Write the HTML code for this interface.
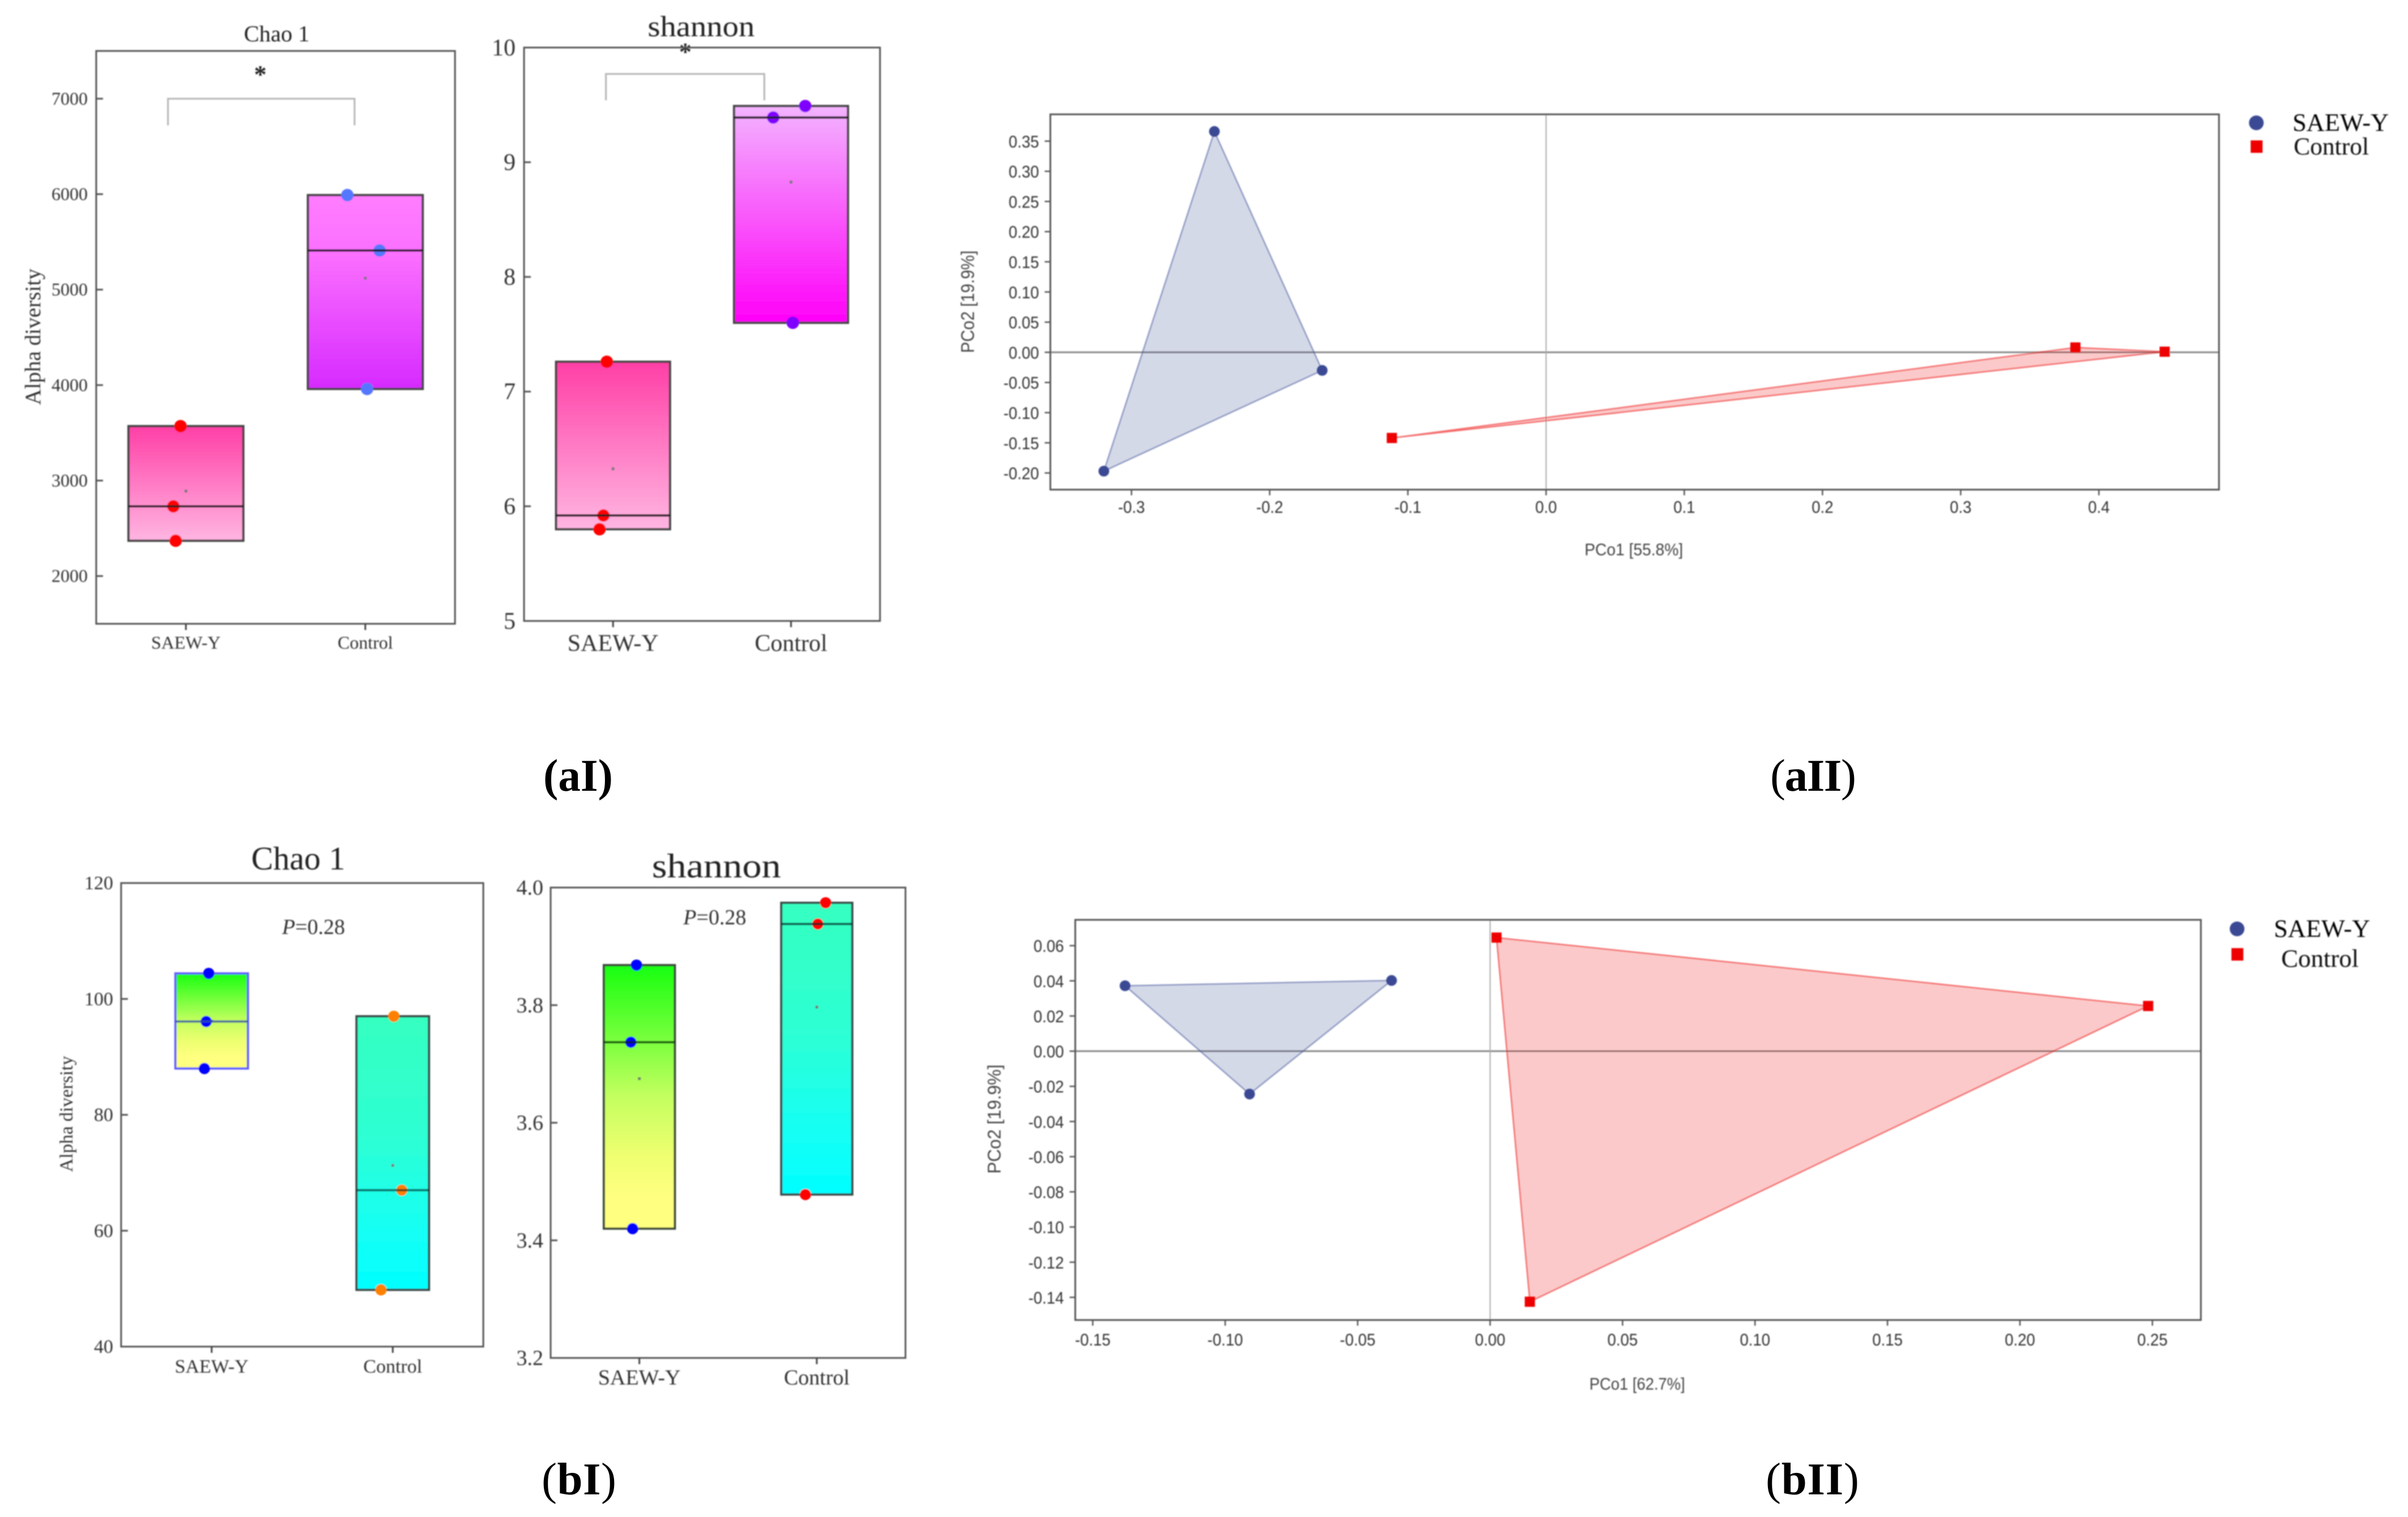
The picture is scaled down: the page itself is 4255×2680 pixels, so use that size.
<!DOCTYPE html>
<html lang="en">
<head>
<meta charset="utf-8">
<title>Alpha diversity and PCoA panels</title>
<style>
html,body{margin:0;padding:0;background:#fff}
svg{display:block}
.serif{font-family:"Liberation Serif",serif}
.sans{font-family:"Liberation Sans",sans-serif}
</style>
</head>
<body>
<svg id="figure" xmlns="http://www.w3.org/2000/svg" width="4255" height="2680" viewBox="0 0 4255 2680">
<defs>
<filter id="soft" filterUnits="userSpaceOnUse" x="0" y="0" width="4255" height="2680"><feGaussianBlur stdDeviation="1"/></filter>
<linearGradient id="g-a-chao-0" x1="0" y1="0" x2="0" y2="1"><stop offset="0" stop-color="#ff3fa6"/><stop offset="1" stop-color="#ffb6e2"/></linearGradient>
<linearGradient id="g-a-chao-1" x1="0" y1="0" x2="0" y2="1"><stop offset="0" stop-color="#ff7dff"/><stop offset="0.3" stop-color="#fb70ff"/><stop offset="1" stop-color="#d62aff"/></linearGradient>
<linearGradient id="g-a-sha-0" x1="0" y1="0" x2="0" y2="1"><stop offset="0" stop-color="#ff3fa6"/><stop offset="1" stop-color="#ffb6e2"/></linearGradient>
<linearGradient id="g-a-sha-1" x1="0" y1="0" x2="0" y2="1"><stop offset="0" stop-color="#f3b4ff"/><stop offset="1" stop-color="#ff00f8"/></linearGradient>
<linearGradient id="g-b-0" x1="0" y1="0" x2="0" y2="1"><stop offset="0" stop-color="#18ff10"/><stop offset="0.5" stop-color="#c4ff60"/><stop offset="0.72" stop-color="#eeff70"/><stop offset="0.88" stop-color="#ffff80"/><stop offset="1" stop-color="#ffff80"/></linearGradient>
<linearGradient id="g-b-1" x1="0" y1="0" x2="0" y2="1"><stop offset="0" stop-color="#35ffc0"/><stop offset="0.45" stop-color="#2dffd4"/><stop offset="0.8" stop-color="#14fff6"/><stop offset="1" stop-color="#00ffff"/></linearGradient>
</defs>

<g id="blurred" filter="url(#soft)">
  <g id="p-a-chao" class="serif">
    <text x="489" y="73" font-size="40" text-anchor="middle" fill="#222" textLength="116" lengthAdjust="spacingAndGlyphs">Chao 1</text>
    <text transform="translate(71 595) rotate(-90)" font-size="39" text-anchor="middle" fill="#333" textLength="241" lengthAdjust="spacingAndGlyphs">Alpha diversity</text>
    <text x="460" y="146" font-size="44" font-weight="bold" text-anchor="middle" fill="#222">*</text>
  </g>
  <g id="p-a-sha" class="serif">
    <text x="1239" y="64" font-size="52" text-anchor="middle" fill="#222" textLength="189" lengthAdjust="spacingAndGlyphs">shannon</text>
    <text x="1211" y="106" font-size="44" font-weight="bold" text-anchor="middle" fill="#222">*</text>
  </g>
  <g id="p-b-chao" class="serif">
    <text x="527" y="1536" font-size="58" text-anchor="middle" fill="#222" textLength="166" lengthAdjust="spacingAndGlyphs">Chao 1</text>
    <text transform="translate(128 1968) rotate(-90)" font-size="33" text-anchor="middle" fill="#333" textLength="205" lengthAdjust="spacingAndGlyphs">Alpha diversity</text>
    <text x="554" y="1650" font-size="38" text-anchor="middle" fill="#333"><tspan font-style="italic">P</tspan>=0.28</text>
  </g>
  <g id="p-b-sha" class="serif">
    <text x="1266" y="1550" font-size="60" text-anchor="middle" fill="#222" textLength="228" lengthAdjust="spacingAndGlyphs">shannon</text>
    <text x="1263" y="1633" font-size="38" text-anchor="middle" fill="#333"><tspan font-style="italic">P</tspan>=0.28</text>
  </g>
  <g id="p-a-pcoa" class="sans">
    <text transform="translate(1721 533) rotate(-90)" font-size="32" text-anchor="middle" fill="#444" textLength="181" lengthAdjust="spacingAndGlyphs">PCo2 [19.9%]</text>
    <text x="2887" y="981" font-size="30" text-anchor="middle" fill="#444" textLength="174" lengthAdjust="spacingAndGlyphs">PCo1 [55.8%]</text>
    <g class="serif">
      <circle cx="3987" cy="217" r="13" fill="#3a4a94"/>
      <text x="4051" y="231" font-size="44" fill="#000" textLength="170" lengthAdjust="spacingAndGlyphs">SAEW-Y</text>
      <rect x="3977" y="248" width="21" height="22" fill="#ee0000"/>
      <text x="4053" y="273" font-size="43" fill="#111" textLength="133" lengthAdjust="spacingAndGlyphs">Control</text>
    </g>
  </g>
  <g id="p-b-pcoa" class="sans">
    <text transform="translate(1768 1977) rotate(-90)" font-size="32" text-anchor="middle" fill="#444" textLength="193" lengthAdjust="spacingAndGlyphs">PCo2 [19.9%]</text>
    <text x="2893" y="2455" font-size="30" text-anchor="middle" fill="#444" textLength="169" lengthAdjust="spacingAndGlyphs">PCo1 [62.7%]</text>
    <g class="serif">
      <circle cx="3953" cy="1641" r="13" fill="#3a4a94"/>
      <text x="4018" y="1655" font-size="44" fill="#000" textLength="170" lengthAdjust="spacingAndGlyphs">SAEW-Y</text>
      <rect x="3943" y="1675" width="21" height="22" fill="#ee0000"/>
      <text x="4031" y="1708" font-size="44" fill="#111" textLength="137" lengthAdjust="spacingAndGlyphs">Control</text>
    </g>
  </g>
</g>

<g class="serif" fill="#000" font-size="81">
  <text x="960" y="1397" font-weight="bold" textLength="123" lengthAdjust="spacingAndGlyphs">(aI)</text>
  <text x="3128" y="1397" textLength="152" lengthAdjust="spacing">(<tspan font-weight="bold">aII</tspan>)</text>
  <text x="957" y="2640" textLength="132" lengthAdjust="spacing">(<tspan font-weight="bold">bI</tspan>)</text>
  <text x="3120" y="2640" textLength="165" lengthAdjust="spacing">(<tspan font-weight="bold">bII</tspan>)</text>
</g>
</svg>

<script>
// ---- shared categories ----
const categories = ['SAEW-Y', 'Control'];

// ---- panel aI Chao 1 ----
const aChaoDomain = [1500, 7500];
const aChaoTicks = [2000, 3000, 4000, 5000, 6000, 7000];
const aChaoSaew = [3570, 2730, 2370];
const aChaoControl = [5990, 5410, 3960];
const aChaoSaewJitter = [-0.03, -0.07, -0.057];
const aChaoControlJitter = [-0.10, 0.08, 0.01];
const aChaoBracketLevels = [6720, 7000];
const aChaoBracketCats = [-0.10, 0.94];

// ---- panel aI shannon ----
const aShaDomain = [5, 10];
const aShaTicks = [5, 6, 7, 8, 9, 10];
const aShaSaew = [7.26, 5.92, 5.80];
const aShaControl = [9.49, 9.39, 7.60];
const aShaSaewJitter = [-0.035, -0.054, -0.076];
const aShaControlJitter = [0.08, -0.10, 0.01];
const aShaBracketLevels = [9.54, 9.77];
const aShaBracketCats = [-0.04, 0.85];

// ---- panel bI Chao 1 ----
const bChaoDomain = [40, 120];
const bChaoTicks = [40, 60, 80, 100, 120];
const bChaoSaew = [104.4, 96.1, 88];
const bChaoControl = [97, 67, 49.8];
const bChaoSaewJitter = [-0.016, -0.03, -0.04];
const bChaoControlJitter = [0.006, 0.05, -0.065];

// ---- panel bI shannon ----
const bShaDomain = [3.2, 4.0];
const bShaTicks = [3.2, 3.4, 3.6, 3.8, 4.0];
const bShaSaew = [3.868, 3.737, 3.42];
const bShaControl = [3.974, 3.938, 3.478];
const bShaSaewJitter = [-0.016, -0.048, -0.038];
const bShaControlJitter = [0.05, 0.006, -0.064];

// ---- panel aII PCoA ----
const aPcoaXDomain = [-0.3587, 0.4869];
const aPcoaYDomain = [-0.2276, 0.3944];
const aPcoaXTicks = [-0.3, -0.2, -0.1, 0, 0.1, 0.2, 0.3, 0.4];
const aPcoaYTicks = [-0.20, -0.15, -0.10, -0.05, 0, 0.05, 0.10, 0.15, 0.20, 0.25, 0.30, 0.35];
const aPcoaSaewX = [-0.240, -0.162, -0.320];
const aPcoaSaewY = [0.366, -0.030, -0.197];
const aPcoaControlX = [-0.1116, 0.383, 0.4476];
const aPcoaControlY = [-0.142, 0.008, 0.001];

// ---- panel bII PCoA ----
const bPcoaXDomain = [-0.1566, 0.2683];
const bPcoaYDomain = [-0.1529, 0.0747];
const bPcoaXTicks = [-0.15, -0.10, -0.05, 0, 0.05, 0.10, 0.15, 0.20, 0.25];
const bPcoaYTicks = [-0.14, -0.12, -0.10, -0.08, -0.06, -0.04, -0.02, 0, 0.02, 0.04, 0.06];
const bPcoaSaewX = [-0.1378, -0.0372, -0.0908];
const bPcoaSaewY = [0.0372, 0.0402, -0.0244];
const bPcoaControlX = [0.0024, 0.2484, 0.015];
const bPcoaControlY = [0.0646, 0.0257, -0.1425];

const NS = 'http://www.w3.org/2000/svg';
function mk(tag, parent, props) {
  const node = document.createElementNS(NS, tag);
  for (const k in props) node.setAttribute(k, props[k]);
  parent.appendChild(node);
  return node;
}
function linear(domain, r0, r1) {
  return function (v) { return r0 + (v - domain[0]) / (domain[1] - domain[0]) * (r1 - r0); };
}
function sortedMiddle(vals) { return vals.slice().sort(function (a, b) { return a - b; })[1]; }
function mean(vals) { return vals.reduce(function (a, b) { return a + b; }, 0) / vals.length; }

function drawFrame(g, f, stroke, width) {
  const frame = mk('rect', g, {x: f.l, y: f.t, width: f.r - f.l, height: f.b - f.t, fill: 'none', stroke: stroke, 'stroke-width': width});
  
  
}

function drawBoxPanel(o) {
  const g = document.getElementById(o.id);
  const f = o.frame;
  const y = linear(o.domain, f.b, f.t);
  const bandW = (f.r - f.l) / categories.length;
  const cx = function (c) { return f.l + (c + 0.5) * bandW; };
  const boxW = bandW * o.boxFrac;

  drawFrame(g, f, '#555', 3);

  o.ticks.forEach(function (t) {
    const line = mk('line', g, {x1: f.l, x2: f.l + 12, y1: y(t), y2: y(t), stroke: '#555', 'stroke-width': 3});
    
    
    const lab = mk('text', g, {x: o.tickRight, y: y(t) + o.tickFont * 0.33, 'font-size': o.tickFont, 'text-anchor': 'end', fill: '#333'});
    lab.textContent = t.toFixed(o.decimals);
    
    
  });

  categories.forEach(function (name, c) {
    const tick = mk('line', g, {x1: cx(c), x2: cx(c), y1: f.b, y2: f.b + 11, stroke: '#444', 'stroke-width': 3});
    
    
    const lab = mk('text', g, {x: cx(c), y: o.catBaseline, 'font-size': o.tickFont, 'text-anchor': 'middle', fill: '#333'});
    lab.textContent = name;
    
    

    const vals = o.values[c];
    const top = y(Math.max.apply(null, vals));
    const bot = y(Math.min.apply(null, vals));
    const box = mk('rect', g, {x: cx(c) - boxW / 2, y: top, width: boxW, height: bot - top, fill: 'url(#' + o.grads[c] + ')', stroke: o.boxStroke[c], 'stroke-width': 4});
    
    

    const m = mk('rect', g, {x: cx(c) - 2.5, y: y(mean(vals)) - 2.5, width: 5, height: 5, fill: '#777'});
    
    

    vals.forEach(function (v, i) {
      const pt = mk('circle', g, {cx: cx(c + o.jitter[c][i]), cy: y(v), r: o.pointR, fill: o.pointColor[c]});
      
      
    });

    const med = y(sortedMiddle(vals));
    const ml = mk('line', g, {x1: cx(c) - boxW / 2, x2: cx(c) + boxW / 2, y1: med, y2: med, stroke: o.medianStroke[c], 'stroke-width': 4});
    
    
  });

  if (o.bracketLevels) {
    const lo = y(o.bracketLevels[0]);
    const hi = y(o.bracketLevels[1]);
    const x0 = cx(o.bracketCats[0]);
    const x1 = cx(o.bracketCats[1]);
    const br = mk('path', g, {d: 'M' + x0 + ' ' + lo + 'V' + hi + 'H' + x1 + 'V' + lo, fill: 'none', stroke: '#b5b5b5', 'stroke-width': 3});
    
    
  }
}

function drawPcoaPanel(o) {
  const g = document.getElementById(o.id);
  const f = o.frame;
  const x = linear(o.xDomain, f.l, f.r);
  const y = linear(o.yDomain, f.b, f.t);

  const zeroH = mk('line', g, {x1: f.l, x2: f.r, y1: y(0), y2: y(0), stroke: '#888', 'stroke-width': 3});
  
  
  const zeroV = mk('line', g, {x1: x(0), x2: x(0), y1: f.t, y2: f.b, stroke: '#aaa', 'stroke-width': 2});
  
  

  const pts = function (xs, ys) { return xs.map(function (v, i) { return x(v) + ',' + y(ys[i]); }).join(' '); };
  const blue = mk('polygon', g, {points: pts(o.saewX, o.saewY), fill: 'rgba(58,74,148,0.21)', stroke: 'rgba(58,74,148,0.5)', 'stroke-width': 2.5});
  
  
  const red = mk('polygon', g, {points: pts(o.controlX, o.controlY), fill: 'rgba(238,0,0,0.21)', stroke: 'rgba(238,0,0,0.5)', 'stroke-width': 2.5});
  
  

  drawFrame(g, f, '#555', 3);

  o.xTicks.forEach(function (t) {
    const line = mk('line', g, {x1: x(t), x2: x(t), y1: f.b, y2: f.b + 10, stroke: '#555', 'stroke-width': 2.5});
    
    
    const lab = mk('text', g, {transform: 'translate(' + x(t) + ' ' + o.xLabelBaseline + ') scale(0.92 1)', 'font-size': 30, 'text-anchor': 'middle', fill: '#333'});
    lab.textContent = t.toFixed(o.xDecimals);
    
    
  });
  o.yTicks.forEach(function (t) {
    const line = mk('line', g, {x1: f.l - 10, x2: f.l, y1: y(t), y2: y(t), stroke: '#555', 'stroke-width': 2.5});
    
    
    const lab = mk('text', g, {transform: 'translate(' + (f.l - 20) + ' ' + (y(t) + 11) + ') scale(0.92 1)', 'font-size': 30, 'text-anchor': 'end', fill: '#333'});
    lab.textContent = t.toFixed(2);
    
    
  });

  o.saewX.forEach(function (v, i) {
    const c = mk('circle', g, {cx: x(v), cy: y(o.saewY[i]), r: 9.5, fill: '#3a4a94'});
    
    
  });
  o.controlX.forEach(function (v, i) {
    const s = mk('rect', g, {x: x(v) - 9, y: y(o.controlY[i]) - 9, width: 18, height: 18, fill: '#ee0000'});
    
    
  });
}

drawBoxPanel({
  id: 'p-a-chao', frame: {l: 170, r: 804, t: 90, b: 1102}, domain: aChaoDomain, ticks: aChaoTicks, decimals: 0,
  values: [aChaoSaew, aChaoControl], jitter: [aChaoSaewJitter, aChaoControlJitter], boxFrac: 0.64,
  grads: ['g-a-chao-0', 'g-a-chao-1'], boxStroke: ['#444', '#444'], medianStroke: ['#1a1a1a', '#1a1a1a'],
  pointColor: ['#ff0000', '#5577ff'], pointR: 11, tickFont: 32, tickRight: 155, catBaseline: 1146,
  bracketLevels: aChaoBracketLevels, bracketCats: aChaoBracketCats
});
drawBoxPanel({
  id: 'p-a-sha', frame: {l: 926, r: 1555, t: 84, b: 1097}, domain: aShaDomain, ticks: aShaTicks, decimals: 0,
  values: [aShaSaew, aShaControl], jitter: [aShaSaewJitter, aShaControlJitter], boxFrac: 0.64,
  grads: ['g-a-sha-0', 'g-a-sha-1'], boxStroke: ['#444', '#444'], medianStroke: ['#1a1a1a', '#1a1a1a'],
  pointColor: ['#ff0000', '#8000ff'], pointR: 11, tickFont: 42, tickRight: 911, catBaseline: 1150,
  bracketLevels: aShaBracketLevels, bracketCats: aShaBracketCats
});
drawBoxPanel({
  id: 'p-b-chao', frame: {l: 214, r: 854, t: 1560, b: 2379}, domain: bChaoDomain, ticks: bChaoTicks, decimals: 0,
  values: [bChaoSaew, bChaoControl], jitter: [bChaoSaewJitter, bChaoControlJitter], boxFrac: 0.4,
  grads: ['g-b-0', 'g-b-1'], boxStroke: ['#6060ff', '#3a4a4a'], medianStroke: ['rgba(50,80,170,0.8)', 'rgba(0,40,40,0.65)'],
  pointColor: ['#0000ff', '#ff8000'], pointR: 10, tickFont: 34, tickRight: 200, catBaseline: 2425
});
drawBoxPanel({
  id: 'p-b-sha', frame: {l: 973, r: 1600, t: 1568, b: 2399}, domain: bShaDomain, ticks: bShaTicks, decimals: 1,
  values: [bShaSaew, bShaControl], jitter: [bShaSaewJitter, bShaControlJitter], boxFrac: 0.4,
  grads: ['g-b-0', 'g-b-1'], boxStroke: ['#3a4a3a', '#3a4a4a'], medianStroke: ['rgba(0,40,0,0.75)', 'rgba(0,40,40,0.75)'],
  pointColor: ['#0000ff', '#ff0000'], pointR: 10, tickFont: 38, tickRight: 960, catBaseline: 2446
});
drawPcoaPanel({
  id: 'p-a-pcoa', frame: {l: 1856, r: 3921, t: 202, b: 865}, xDomain: aPcoaXDomain, yDomain: aPcoaYDomain,
  xTicks: aPcoaXTicks, yTicks: aPcoaYTicks, xDecimals: 1, xLabelBaseline: 906,
  saewX: aPcoaSaewX, saewY: aPcoaSaewY, controlX: aPcoaControlX, controlY: aPcoaControlY
});
drawPcoaPanel({
  id: 'p-b-pcoa', frame: {l: 1900, r: 3889, t: 1625, b: 2332}, xDomain: bPcoaXDomain, yDomain: bPcoaYDomain,
  xTicks: bPcoaXTicks, yTicks: bPcoaYTicks, xDecimals: 2, xLabelBaseline: 2377,
  saewX: bPcoaSaewX, saewY: bPcoaSaewY, controlX: bPcoaControlX, controlY: bPcoaControlY
});
</script>
</body>
</html>
